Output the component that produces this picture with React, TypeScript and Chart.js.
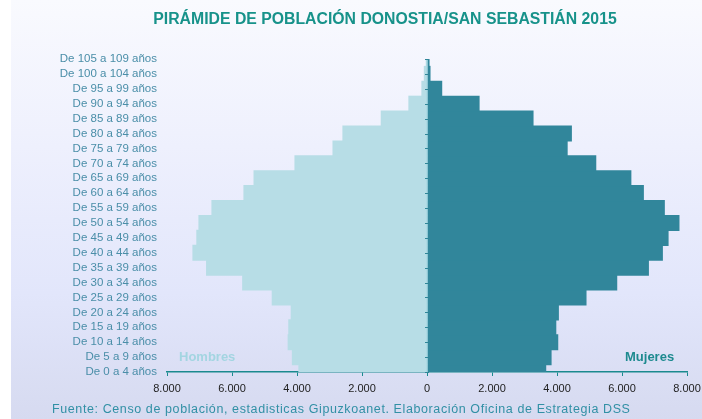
import React, { useEffect, useRef } from "react";
import { Chart, registerables } from "chart.js";

Chart.register(...registerables);

// Age groups from youngest (bottom) to oldest (top)
const ageGroups = [
  "De 0 a 4 años",
  "De 5 a 9 años",
  "De 10 a 14 años",
  "De 15 a 19 años",
  "De 20 a 24 años",
  "De 25 a 29 años",
  "De 30 a 34 años",
  "De 35 a 39 años",
  "De 40 a 44 años",
  "De 45 a 49 años",
  "De 50 a 54 años",
  "De 55 a 59 años",
  "De 60 a 64 años",
  "De 65 a 69 años",
  "De 70 a 74 años",
  "De 75 a 79 años",
  "De 80 a 84 años",
  "De 85 a 89 años",
  "De 90 a 94 años",
  "De 95 a 99 años",
  "De 100 a 104 años",
  "De 105 a 109 años",
];

const hombres = [
  3940, 4140, 4270, 4250, 4175, 4760, 5670, 6780, 7200, 7080, 7015, 6615,
  5630, 5320, 4060, 2890, 2585, 1405, 555, 155, 80, 20,
];

const mujeres = [
  3650, 3815, 4020, 3960, 4040, 4890, 5835, 6810, 7240, 7415, 7750, 7300,
  6655, 6270, 5190, 4310, 4440, 3260, 1600, 450, 90, 60,
];

const xTicks = [-8000, -6000, -4000, -2000, 0, 2000, 4000, 6000, 8000];

const titleText = "PIRÁMIDE DE POBLACIÓN DONOSTIA/SAN SEBASTIÁN 2015";
const sourceText =
  "Fuente: Censo de población, estadisticas Gipuzkoanet. Elaboración Oficina de Estrategia DSS";

const fmt = (v: number) =>
  String(Math.abs(v)).replace(/\B(?=(\d{3})+(?!\d))/g, ".");

const zeroLinePlugin = {
  id: "zeroLine",
  afterDatasetsDraw(chart: any) {
    const { ctx, chartArea, scales } = chart;
    const x0 = scales.x.getPixelForValue(0);
    ctx.save();
    ctx.strokeStyle = "#a9d7e2";
    ctx.lineWidth = 1.5;
    ctx.beginPath();
    ctx.moveTo(x0, chartArea.top);
    ctx.lineTo(x0, chartArea.bottom);
    ctx.stroke();
    ctx.strokeStyle = "#2f8598";
    ctx.lineWidth = 1;
    for (let i = 0; i < ageGroups.length; i++) {
      const y = Math.round(scales.y.getPixelForValue(i)) + 0.5;
      ctx.beginPath();
      ctx.moveTo(x0 - 2, y);
      ctx.lineTo(x0 + 2, y);
      ctx.stroke();
    }
    ctx.restore();
  },
};

export default function App() {
  const canvasRef = useRef<HTMLCanvasElement | null>(null);

  useEffect(() => {
    if (!canvasRef.current) return;
    const chart = new Chart(canvasRef.current, {
      type: "bar",
      data: {
        labels: ageGroups,
        datasets: [
          {
            label: "Hombres",
            data: hombres.map((v) => -v),
            backgroundColor: "#b7dde6",
            barPercentage: 1,
            categoryPercentage: 1,
            borderWidth: 0,
            inflateAmount: 0.6,
            clip: 0,
          },
          {
            label: "Mujeres",
            data: mujeres,
            backgroundColor: "#31869b",
            barPercentage: 1,
            categoryPercentage: 1,
            borderWidth: 0,
            inflateAmount: 0.6,
            clip: 0,
          },
        ],
      },
      plugins: [zeroLinePlugin],
      options: {
        indexAxis: "y",
        responsive: false,
        animation: false,
        layout: { padding: { top: 59, right: 15, left: 0, bottom: 0 } },
        plugins: {
          legend: { display: false },
          tooltip: { enabled: false },
          title: { display: false },
        },
        scales: {
          x: {
            type: "linear",
            stacked: true,
            min: -8000,
            max: 8000,
            afterBuildTicks: (scale: any) => {
              scale.ticks = xTicks.map((v) => ({ value: v }));
            },
            afterFit: (scale: any) => {
              scale.height = 47;
              scale.paddingRight = 0;
            },
            ticks: {
              callback: (v: any) => fmt(Number(v)),
              color: "#222222",
              font: { family: "Liberation Sans", size: 11 },
              padding: 6,
              maxRotation: 0,
            },
            grid: {
              display: true,
              drawOnChartArea: false,
              drawTicks: true,
              tickLength: 4,
              color: "#1a8a8e",
            },
            border: { display: true, color: "#1a8a8e", width: 1.5 },
          },
          y: {
            type: "category",
            stacked: true,
            reverse: true,
            offset: false,
            afterFit: (scale: any) => {
              scale.width = 167;
            },
            ticks: {
              autoSkip: false,
              color: "#4a8ea8",
              font: { family: "Liberation Sans", size: 11.5 },
              padding: 10,
            },
            grid: { display: false, drawTicks: false },
            border: { display: false },
          },
        },
      },
    });
    return () => chart.destroy();
  }, []);

  return (
    <div
      style={{
        position: "absolute",
        left: 0,
        top: 0,
        width: 702,
        height: 419,
        background: "#ffffff",
        overflow: "hidden",
      }}
    >
      <div
        style={{
          position: "absolute",
          left: 11,
          top: 0,
          width: 691,
          height: 419,
          background:
            "linear-gradient(to bottom, #f9fafe 0%, #eef0fd 35%, #e2e6fb 70%, #d6daf0 100%)",
        }}
      />
      <canvas
        ref={canvasRef}
        width={702}
        height={419}
        style={{ position: "absolute", left: 0, top: 0 }}
      />
      <div
        style={{
          position: "absolute",
          left: 385,
          top: 10,
          transform: "translateX(-50%)",
          whiteSpace: "nowrap",
          fontFamily: "Liberation Sans, Arial, sans-serif",
          fontWeight: "bold",
          fontSize: 15.8,
          lineHeight: "18px",
          color: "#17928a",
        }}
      >
        {titleText}
      </div>
      <div
        style={{
          position: "absolute",
          left: 179,
          top: 349,
          whiteSpace: "nowrap",
          fontFamily: "Liberation Sans, Arial, sans-serif",
          fontWeight: "bold",
          fontSize: 13,
          lineHeight: "15px",
          color: "#a3d5e1",
        }}
      >
        Hombres
      </div>
      <div
        style={{
          position: "absolute",
          left: 625,
          top: 349,
          whiteSpace: "nowrap",
          fontFamily: "Liberation Sans, Arial, sans-serif",
          fontWeight: "bold",
          fontSize: 13,
          lineHeight: "15px",
          color: "#1d8a8f",
        }}
      >
        Mujeres
      </div>
      <div
        style={{
          position: "absolute",
          left: 52,
          top: 401,
          whiteSpace: "nowrap",
          fontFamily: "Liberation Sans, Arial, sans-serif",
          fontSize: 12.5,
          letterSpacing: "0.6px",
          lineHeight: "16px",
          color: "#3190a5",
        }}
      >
        {sourceText}
      </div>
    </div>
  );
}
